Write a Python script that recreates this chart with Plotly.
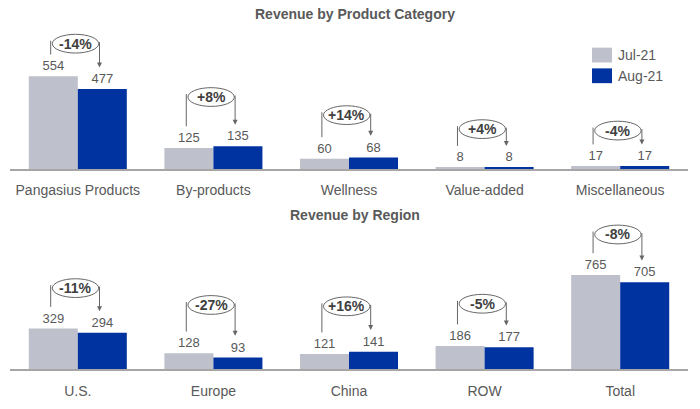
import plotly.graph_objects as go

# ---------------- data ----------------
months = ["Jul-21", "Aug-21"]

product_categories = ["Pangasius Products", "By-products", "Wellness", "Value-added", "Miscellaneous"]
product_jul = [554, 125, 60, 8, 17]
product_aug = [477, 135, 68, 8, 17]
product_change = ["-14%", "+8%", "+14%", "+4%", "-4%"]

regions = ["U.S.", "Europe", "China", "ROW", "Total"]
region_jul = [329, 128, 121, 186, 765]
region_aug = [294, 93, 141, 177, 705]
region_change = ["-11%", "-27%", "+16%", "-5%", "-8%"]

# ---------------- style / layout ----------------
W, H = 700, 409
ML, MR, MT, MB = 10, 12, 25, 35
PLOT_W = W - ML - MR
PLOT_H = H - MT - MB

GRAY = "#BEC0CB"
BLUE = "#0033A0"
TXT = "#595959"
DARK = "#404040"
LINE = "#666666"
FONT = "Arial, Liberation Sans, sans-serif"

# pixel rows of the two panels (top of plot area, baseline)
TOP_PANEL = (25, 171)
BOT_PANEL = (225, 374)
TOP_RANGE = 860
BOT_RANGE = 1194

# how high each change bubble sits above the taller bar (pixels)
product_bubble_lift = [33, 50, 43, 39, 36]
region_bubble_lift = [41, 49, 46, 43, 41]


def frac_y(px):
    return (H - MB - px) / PLOT_H


def frac_x(px):
    return (px - ML) / PLOT_W


top_scale = (TOP_PANEL[1] - TOP_PANEL[0]) / TOP_RANGE
bot_scale = (BOT_PANEL[1] - BOT_PANEL[0]) / BOT_RANGE

fig = go.Figure()

for cats, jul, aug, xa, ya in [
    (product_categories, product_jul, product_aug, "x", "y"),
    (regions, region_jul, region_aug, "x2", "y2"),
]:
    for name, vals, color in [(months[0], jul, GRAY), (months[1], aug, BLUE)]:
        fig.add_trace(go.Bar(
            x=cats, y=vals, name=name, marker_color=color, marker_line_width=0,
            text=vals, textposition="outside", cliponaxis=False,
            textfont=dict(size=13, color=TXT, family=FONT),
            xaxis=xa, yaxis=ya, showlegend=False,
        ))

shapes = []
annotations = []


def add_brackets(jul, aug, changes, lifts, scale, xref, yref):
    for i, (a, b, ch, lift) in enumerate(zip(jul, aug, changes, lifts)):
        top = max(a, b)
        cy = top + lift / scale
        xl = i - 0.2
        xr = i + 0.16
        # left riser
        shapes.append(dict(type="line", xref=xref, yref=yref, x0=xl, x1=xl,
                           y0=a + 22 / scale, y1=cy + 3 / scale,
                           line=dict(color=LINE, width=1)))
        # bubble
        shapes.append(dict(type="circle", xref=xref, yref=yref,
                           x0=xl + 0.012, x1=xr - 0.006,
                           y0=cy - 9.5 / scale, y1=cy + 9.5 / scale,
                           line=dict(color=LINE, width=1)))
        annotations.append(dict(xref=xref, yref=yref, x=(xl + xr) / 2 + 0.003, y=cy,
                                text=f"<b>{ch}</b>", showarrow=False,
                                font=dict(size=14, color=DARK, family=FONT)))
        # arrow down to the Aug label
        annotations.append(dict(xref=xref, yref=yref, x=xr, y=b + 22 / scale,
                                axref=xref, ayref=yref, ax=xr, ay=cy + 3 / scale,
                                text="", showarrow=True, arrowhead=2, arrowsize=1,
                                arrowwidth=1, arrowcolor=LINE))


add_brackets(product_jul, product_aug, product_change, product_bubble_lift, top_scale, "x", "y")
add_brackets(region_jul, region_aug, region_change, region_bubble_lift, bot_scale, "x2", "y2")

# titles
annotations.append(dict(xref="paper", yref="paper", x=frac_x(355), y=frac_y(14),
                        xanchor="center", yanchor="middle",
                        text="<b>Revenue by Product Category</b>", showarrow=False,
                        font=dict(size=14, color=TXT, family=FONT)))
annotations.append(dict(xref="paper", yref="paper", x=frac_x(355), y=frac_y(218),
                        xanchor="center", yanchor="middle",
                        text="<b>Revenue by Region</b>", showarrow=False,
                        font=dict(size=14, color=TXT, family=FONT)))

# legend
for k, (name, color) in enumerate([(months[0], GRAY), (months[1], BLUE)]):
    y0 = 48 + 21 * k
    shapes.append(dict(type="rect", xref="paper", yref="paper",
                       x0=frac_x(592), x1=frac_x(612), y0=frac_y(y0 + 15), y1=frac_y(y0),
                       fillcolor=color, line=dict(width=0)))
    annotations.append(dict(xref="paper", yref="paper", x=frac_x(616), y=frac_y(y0 + 7.5),
                            xanchor="left", yanchor="middle", text=name, showarrow=False,
                            font=dict(size=14, color=TXT, family=FONT)))

axis_x = dict(type="category", range=[-0.5, 4.5], showline=True, linecolor="#A6A6A6",
              linewidth=1.5, ticks="", showgrid=False, zeroline=False, ticklabelstandoff=8,
              tickfont=dict(size=14, color=TXT, family=FONT), fixedrange=True)
axis_y = dict(showticklabels=False, showgrid=False, zeroline=False, showline=False,
              fixedrange=True)

fig.update_layout(
    width=W, height=H,
    margin=dict(l=ML, r=MR, t=MT, b=MB),
    paper_bgcolor="white", plot_bgcolor="white",
    barmode="group", bargap=0.277, bargroupgap=0,
    showlegend=False,
    xaxis=dict(axis_x, anchor="y", domain=[0, 1]),
    yaxis=dict(axis_y, anchor="x", domain=[frac_y(TOP_PANEL[1]), frac_y(TOP_PANEL[0])],
               range=[0, TOP_RANGE]),
    xaxis2=dict(axis_x, anchor="y2", domain=[0, 1]),
    yaxis2=dict(axis_y, anchor="x2", domain=[frac_y(BOT_PANEL[1]), frac_y(BOT_PANEL[0])],
                range=[0, BOT_RANGE]),
    shapes=shapes,
    annotations=annotations,
    font=dict(family=FONT, color=TXT),
)

fig.write_html("out.html", config={"displayModeBar": False},
               post_script="document.body.style.margin='0';document.body.style.overflow='hidden';")
